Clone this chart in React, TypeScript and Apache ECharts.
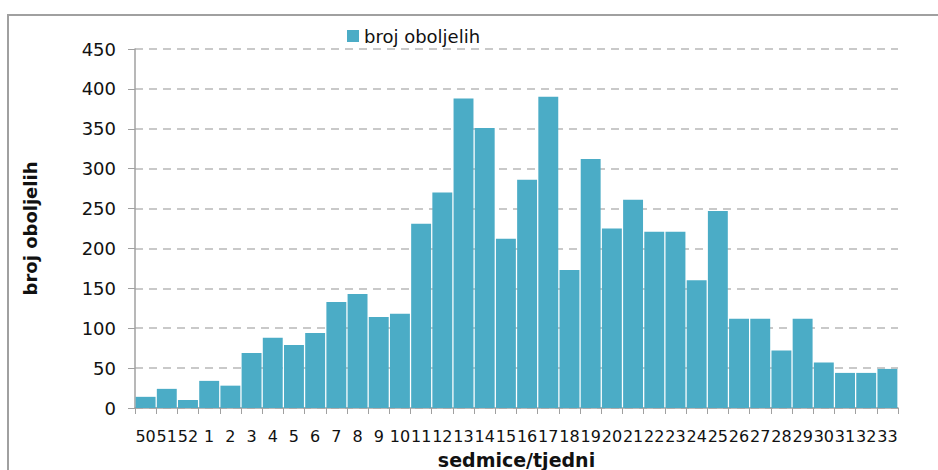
import React, { useEffect, useRef } from "react";
import * as echarts from "echarts";

const weeks: string[] = [
  "50", "51", "52", "1", "2", "3", "4", "5", "6", "7", "8", "9", "10", "11", "12", "13", "14", "15",
  "16", "17", "18", "19", "20", "21", "22", "23", "24", "25", "26", "27", "28", "29", "30", "31", "32", "33",
];
const cases: number[] = [
  14, 24, 10, 34, 28, 69, 88, 79, 94, 133, 143, 114, 118, 231, 270, 388, 351, 212,
  286, 390, 173, 312, 225, 261, 221, 221, 160, 247, 112, 112, 72, 112, 57, 44, 44, 49,
];
const seriesName = "broj oboljelih";
const yAxisTitle = "broj oboljelih";
const xAxisTitle = "sedmice/tjedni";

export default function App() {
  const ref = useRef<HTMLDivElement>(null);
  useEffect(() => {
    if (!ref.current) return;
    const chart = echarts.init(ref.current, null, { renderer: "svg" });
    const font = "DejaVu Sans";
    chart.setOption({
      animation: false,
      backgroundColor: "#fff",
      graphic: [
        {
          type: "rect",
          shape: { x: 8, y: 15, width: 940, height: 470 },
          style: { fill: "none", stroke: "#a0a0a0", lineWidth: 2 },
          silent: true,
        },
      ],
      legend: {
        data: [seriesName],
        left: 342,
        top: 22,
        icon: "rect",
        itemWidth: 12,
        itemHeight: 12,
        itemGap: 8,
        textStyle: { fontFamily: font, fontSize: 18, color: "#111" },
      },
      grid: {
        left: 135,
        right: 40,
        top: 49,
        bottom: 62,
        containLabel: false,
        outerBoundsMode: "none",
      },
      xAxis: {
        type: "category",
        data: weeks,
        name: xAxisTitle,
        nameLocation: "middle",
        nameGap: 42,
        nameTextStyle: { fontFamily: font, fontSize: 19, fontWeight: "bold", color: "#111" },
        axisLine: { lineStyle: { color: "#a0a0a0", width: 1.5 } },
        axisTick: { show: true, interval: 0, length: 6, lineStyle: { color: "#a0a0a0" } },
        axisLabel: { interval: 0, margin: 20, fontFamily: font, fontSize: 16, color: "#111" },
      },
      yAxis: {
        type: "value",
        min: 0,
        max: 450,
        interval: 50,
        name: yAxisTitle,
        nameLocation: "middle",
        nameGap: 96,
        nameRotate: 90,
        nameTextStyle: { fontFamily: font, fontSize: 18, fontWeight: "bold", color: "#111" },
        axisLine: { show: true, lineStyle: { color: "#a0a0a0", width: 1.5 } },
        axisTick: { show: true, length: 7, lineStyle: { color: "#a0a0a0" } },
        axisLabel: { margin: 19, fontFamily: font, fontSize: 18, color: "#111" },
        splitLine: { show: true, lineStyle: { color: "#b8b8b8", type: [8, 6], width: 1.5 } },
      },
      series: [
        {
          name: seriesName,
          type: "bar",
          data: cases,
          barCategoryGap: "6%",
          itemStyle: { color: "#4BACC6" },
        },
      ],
    });
    return () => chart.dispose();
  }, []);
  return (
    <div
      ref={ref}
      style={{ position: "absolute", left: 0, top: 0, width: 938, height: 470 }}
    />
  );
}
